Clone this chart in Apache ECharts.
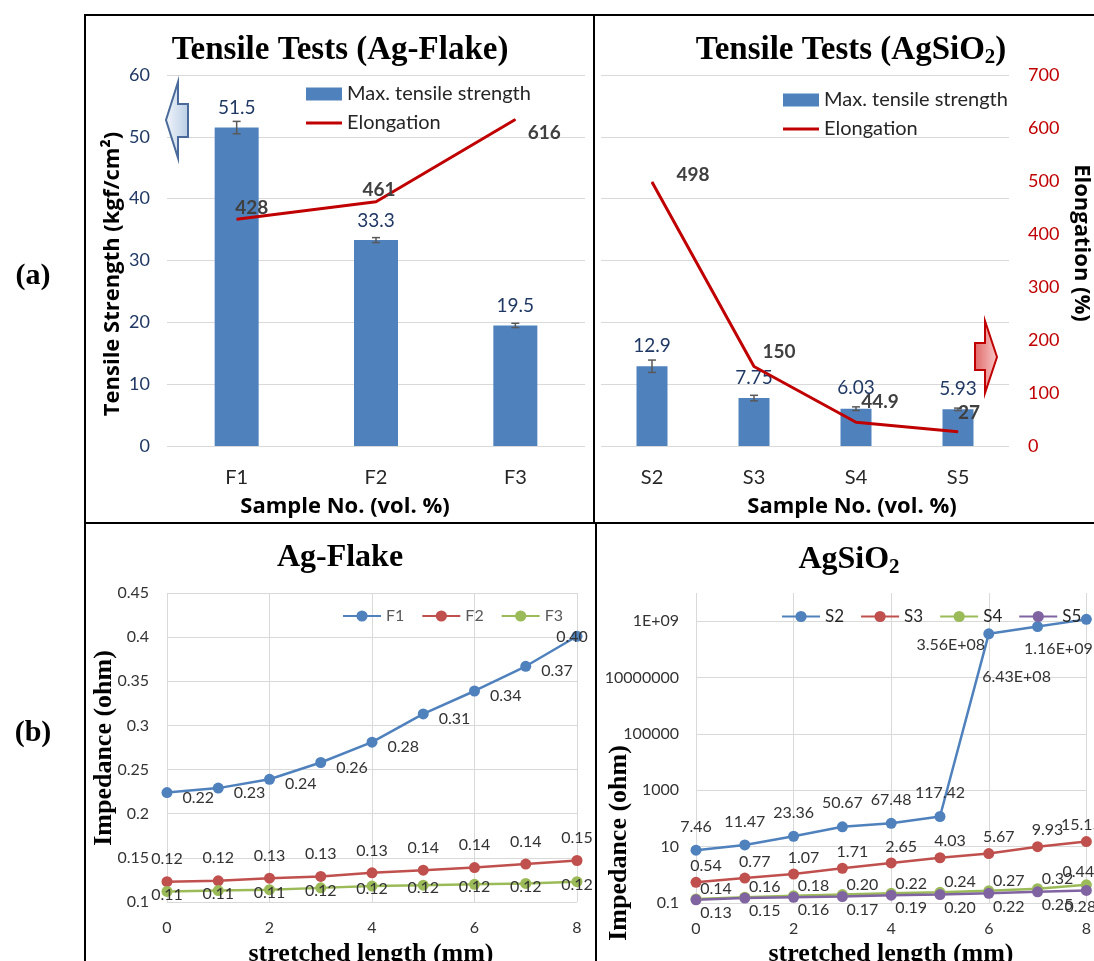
<!DOCTYPE html>
<html>
<head>
<meta charset="utf-8">
<title>Tensile tests and impedance</title>
<script src="https://cdn.jsdelivr.net/npm/echarts@6/dist/echarts.min.js"></script>
<style>
  *{margin:0;padding:0;}
  body{background:#fff;}
  #main{width:1094px;height:961px;}
</style>
</head>
<body>
<div id="main"></div>
<script>
// ---- data ----
var flakeSamples = ['F1', 'F2', 'F3'];
var flakeStrength = [51.5, 33.3, 19.5];
var flakeStrengthErr = [1.0, 0.4, 0.35];
var flakeElong = [428, 461, 616];

var sioSamples = ['S2', 'S3', 'S4', 'S5'];
var sioStrength = [12.9, 7.75, 6.03, 5.93];
var sioStrengthErr = [1.0, 0.45, 0.3, 0.2];
var sioElong = [498, 150, 44.9, 27];

var stretch = [0, 1, 2, 3, 4, 5, 6, 7, 8];
var f1 = [0.224, 0.229, 0.239, 0.258, 0.281, 0.313, 0.339, 0.367, 0.401];
var f2 = [0.123, 0.124, 0.127, 0.129, 0.133, 0.136, 0.139, 0.143, 0.147];
var f3 = [0.112, 0.113, 0.114, 0.116, 0.118, 0.119, 0.120, 0.121, 0.123];
var s2 = [7.46, 11.47, 23.36, 50.67, 67.48, 117.42, 3.56e8, 6.43e8, 1.16e9];
var s3 = [0.54, 0.77, 1.07, 1.71, 2.65, 4.03, 5.67, 9.93, 15.15];
var s4 = [0.14, 0.16, 0.18, 0.20, 0.22, 0.24, 0.27, 0.32, 0.44];
var s5 = [0.13, 0.15, 0.16, 0.17, 0.19, 0.20, 0.22, 0.25, 0.28];

// ---- styles ----
var SANS = 'Lato, "Open Sans", sans-serif';
var BOLDSANS = '"Open Sans", Lato, sans-serif';
var SERIF = '"Liberation Serif", "Times New Roman", serif';
var BLUE = '#4F81BD', RED = '#C0504D', GREEN = '#9BBB59', PURPLE = '#8064A2';
var DARKRED = '#C00000', NAVY = '#203864', GRID = '#D9D9D9';

// label offsets (px)
var flakeElongOff = [[15, -11], [3, -12], [29, 13]];
var sioElongOff = [[41, -7], [25, -15], [24, -20], [11, -19]];
var s2Off = [null, null, null, null, null, null, [-38, 11], [-21, 50], [-28, 29]];
var s3Off = [null, null, null, null, null, null, null, null, [-5, -17]];
var s4Off = [null, null, null, null, null, null, null, null, [-8, -13]];
var s5Off = [null, null, null, null, null, null, null, null, [-6, 16]];
var f1Off = [null, null, null, null, null, null, null, null, [-5, 1]];

var myChart = echarts.init(document.getElementById('main'));

function pairs(ys, offs) {
    return ys.map(function (v, i) {
        var d = {value: [stretch[i], v]};
        if (offs && offs[i]) d.label = {position: 'inside', offset: offs[i]};
        return d;
    });
}
function errorBar(params, api) {
    var i = api.value(0), v = api.value(1), e = api.value(2);
    var hi = api.coord([i, v + e]), lo = api.coord([i, v - e]);
    var st = {stroke: '#595959', lineWidth: 1.5};
    return {type: 'group', children: [
        {type: 'line', shape: {x1: hi[0], y1: hi[1], x2: lo[0], y2: lo[1]}, style: st},
        {type: 'line', shape: {x1: hi[0] - 4, y1: hi[1], x2: hi[0] + 4, y2: hi[1]}, style: st},
        {type: 'line', shape: {x1: lo[0] - 4, y1: lo[1], x2: lo[0] + 4, y2: lo[1]}, style: st}
    ]};
}
function impFmt(v) {
    if (v >= 1e6) {
        return v.toExponential(2).toUpperCase().replace(/E\+(\d)$/, 'E+0$1');
    }
    return v.toFixed(2);
}
function logLabel(v) {
    var e = Math.round(Math.log10(v));
    if (e >= 10) return '';
    if (e >= 9) return '1E+0' + e;
    if (e < 0) return '0.1';
    return String(Math.pow(10, e));
}

function catX(idx, data) {
    return {
        type: 'category', gridIndex: idx, data: data,
        axisLine: {show: false}, axisTick: {show: false},
        axisLabel: {color: '#262626', fontSize: 20, fontFamily: SANS, margin: 22}
    };
}
function valX(idx) {
    return {
        type: 'value', gridIndex: idx, min: 0, max: 8, interval: 2,
        axisLine: {show: false}, axisTick: {show: false},
        splitLine: {show: true, lineStyle: {color: GRID}},
        axisLabel: {color: '#333', fontSize: 16, fontFamily: SANS, margin: 18}
    };
}
function impLabel(extra) {
    var l = {show: true, color: '#333', fontSize: 16, fontFamily: SANS,
        formatter: function (p) { return impFmt(p.value[1]); }};
    for (var k in extra) l[k] = extra[k];
    return l;
}
function lineSeries(name, color, xi, yi, ys, label, offs) {
    return {
        name: name, type: 'line', xAxisIndex: xi, yAxisIndex: yi,
        data: pairs(ys, offs), symbol: 'circle', symbolSize: 11,
        itemStyle: {color: color}, lineStyle: {color: color, width: 2.5},
        label: label
    };
}

var txt = function (x, y, text, font, size, rot) {
    return {type: 'text', x: x, y: y, rotation: rot || 0, z: 10,
        style: {text: text, font: 'bold ' + size + 'px ' + font, fill: '#000', align: 'center', verticalAlign: 'middle'}};
};
var subRich = function (big) {
    return {
        a: {fontFamily: SERIF, fontWeight: 'bold', fontSize: big, color: '#000'},
        s: {fontFamily: SERIF, fontWeight: 'bold', fontSize: 21, color: '#000', padding: [16, 0, 0, 0]}
    };
};
var ln = function (x1, y1, x2, y2) {
    return {type: 'line', shape: {x1: x1, y1: y1, x2: x2, y2: y2}, style: {stroke: '#000', lineWidth: 2}, z: 10};
};

var topLegend = function (left, top) {
    return {data: [{name: 'Max. tensile strength', icon: 'rect'},
                   {name: 'Elongation', icon: 'path://M0,0 L36,0 L36,3 L0,3 Z'}],
        orient: 'vertical', left: left, top: top, itemWidth: 36, itemHeight: 13, itemGap: 9,
        selectedMode: false, symbolKeepAspect: true,
        textStyle: {fontSize: 20, fontFamily: SANS, color: '#262626'}};
};

var option = {
    animation: false,
    grid: [
        {left: 167, top: 75, width: 418, height: 371},
        {left: 601, top: 75, width: 408, height: 371},
        {left: 167, top: 593, width: 410, height: 309},
        {left: 696, top: 593, width: 392, height: 310}
    ],
    legend: [
        topLegend(301, 79),
        topLegend(778, 85),
        {data: ['F1', 'F2', 'F3'], left: 337, top: 603, itemWidth: 38, itemHeight: 14, itemGap: 17,
         selectedMode: false, textStyle: {fontSize: 16, fontFamily: SANS, color: '#595959'}},
        {data: ['S2', 'S3', 'S4', 'S5'], left: 776, top: 603, itemWidth: 38, itemHeight: 14, itemGap: 16,
         selectedMode: false, textStyle: {fontSize: 17, fontFamily: SANS, color: '#262626'}}
    ],
    xAxis: [
        catX(0, flakeSamples),
        catX(1, sioSamples),
        valX(2),
        valX(3)
    ],
    yAxis: [
        {type: 'value', gridIndex: 0, min: 0, max: 60, interval: 10,
         axisLine: {show: false}, axisTick: {show: false},
         splitLine: {lineStyle: {color: GRID}},
         axisLabel: {color: NAVY, fontSize: 18, fontFamily: SANS, margin: 17}},
        {type: 'value', gridIndex: 0, min: 0, max: 700, interval: 100, show: false, splitLine: {show: false}},
        {type: 'value', gridIndex: 1, min: 0, max: 60, interval: 10,
         axisLine: {show: false}, axisTick: {show: false}, axisLabel: {show: false},
         splitLine: {lineStyle: {color: GRID}}},
        {type: 'value', gridIndex: 1, min: 0, max: 700, interval: 100, position: 'right',
         axisLine: {show: false}, axisTick: {show: false}, splitLine: {show: false},
         axisLabel: {color: DARKRED, fontSize: 18, fontFamily: SANS, margin: 19}},
        {type: 'value', gridIndex: 2, min: 0.1, max: 0.45, interval: 0.05,
         axisLine: {show: false}, axisTick: {show: false},
         splitLine: {lineStyle: {color: GRID}},
         axisLabel: {color: '#333', fontSize: 16, fontFamily: SANS, margin: 18,
             formatter: function (v) { return String(parseFloat(v.toFixed(2))); }}},
        {type: 'log', gridIndex: 3, logBase: 10, min: 0.1, max: 1e10, interval: 2,
         axisLine: {show: false}, axisTick: {show: false},
         splitLine: {lineStyle: {color: [GRID, GRID, GRID, GRID, GRID, GRID, 'rgba(0,0,0,0)']}},
         axisLabel: {color: '#333', fontSize: 16, fontFamily: SANS, margin: 17, formatter: logLabel}}
    ],
    series: [
        {name: 'Max. tensile strength', type: 'bar', xAxisIndex: 0, yAxisIndex: 0, data: flakeStrength,
         barWidth: 44, itemStyle: {color: BLUE},
         label: {show: true, position: 'top', distance: 10, color: NAVY, fontSize: 19, fontFamily: SANS}},
        {type: 'custom', xAxisIndex: 0, yAxisIndex: 0, renderItem: errorBar, z: 3,
         data: flakeStrength.map(function (v, i) { return [i, v, flakeStrengthErr[i]]; })},
        {name: 'Elongation', type: 'line', xAxisIndex: 0, yAxisIndex: 1,
         data: flakeElong.map(function (v, i) { return {value: v, label: {offset: flakeElongOff[i]}}; }),
         symbol: 'circle', symbolSize: 1, itemStyle: {color: DARKRED},
         lineStyle: {color: DARKRED, width: 3},
         label: {show: true, position: 'inside', color: '#404040', fontWeight: 'bold', fontSize: 19, fontFamily: SANS}},

        {name: 'Max. tensile strength', type: 'bar', xAxisIndex: 1, yAxisIndex: 2, data: sioStrength,
         barWidth: 31, itemStyle: {color: BLUE},
         label: {show: true, position: 'top', distance: 11, color: NAVY, fontSize: 19, fontFamily: SANS}},
        {type: 'custom', xAxisIndex: 1, yAxisIndex: 2, renderItem: errorBar, z: 3,
         data: sioStrength.map(function (v, i) { return [i, v, sioStrengthErr[i]]; })},
        {name: 'Elongation', type: 'line', xAxisIndex: 1, yAxisIndex: 3,
         data: sioElong.map(function (v, i) { return {value: v, label: {offset: sioElongOff[i]}}; }),
         symbol: 'circle', symbolSize: 1, itemStyle: {color: DARKRED},
         lineStyle: {color: DARKRED, width: 3}, z: 4,
         label: {show: true, position: 'inside', color: '#404040', fontWeight: 'bold', fontSize: 19, fontFamily: SANS}},

        lineSeries('F1', BLUE, 2, 4, f1, impLabel({position: 'right', distance: 10, offset: [0, 5]}), f1Off),
        lineSeries('F2', RED, 2, 4, f2, impLabel({position: 'top', distance: 9})),
        lineSeries('F3', GREEN, 2, 4, f3, impLabel({position: 'inside', offset: [0, 3]})),

        lineSeries('S2', BLUE, 3, 5, s2, impLabel({position: 'top', distance: 10}), s2Off),
        lineSeries('S3', RED, 3, 5, s3, impLabel({position: 'top', distance: 3, offset: [10, 0]}), s3Off),
        lineSeries('S4', GREEN, 3, 5, s4, impLabel({position: 'inside', offset: [20, -10]}), s4Off),
        lineSeries('S5', PURPLE, 3, 5, s5, impLabel({position: 'inside', offset: [20, 13]}), s5Off)
    ],
    graphic: [
        // panel frames
        ln(84, 15, 1094, 15), ln(85, 14, 85, 961), ln(594, 14, 594, 523),
        ln(84, 523, 1094, 523), ln(596, 523, 596, 961),
        // panel letters
        txt(33, 276, '(a)', SERIF, 30),
        txt(33, 733, '(b)', SERIF, 30),
        // titles
        txt(340, 50, 'Tensile Tests (Ag-Flake)', SERIF, 33),
        {type: 'text', x: 851, y: 50, z: 10, style: {text: '{a|Tensile Tests (AgSiO}{s|2}{a|)}', rich: subRich(33),
            align: 'center', verticalAlign: 'middle'}},
        txt(340, 558, 'Ag-Flake', SERIF, 32),
        {type: 'text', x: 849, y: 560, z: 10, style: {text: '{a|AgSiO}{s|2}', rich: subRich(32),
            align: 'center', verticalAlign: 'middle'}},
        // axis titles
        txt(113, 274, 'Tensile Strength (kgf/cm\u00B2)', BOLDSANS, 22, Math.PI / 2),
        txt(1081, 243, 'Elongation (%)', BOLDSANS, 22, -Math.PI / 2),
        txt(345, 507, 'Sample No. (vol. %)', BOLDSANS, 22),
        txt(852, 507, 'Sample No. (vol. %)', BOLDSANS, 22),
        txt(104, 748, 'Impedance (ohm)', SERIF, 26, Math.PI / 2),
        txt(619, 843, 'Impedance (ohm)', SERIF, 26, Math.PI / 2),
        txt(371, 954, 'stretched length (mm)', SERIF, 26),
        txt(891, 954, 'stretched length (mm)', SERIF, 26),
        // block arrows
        {type: 'polygon', z: 9, shape: {points: [[166, 120], [178, 82], [178, 104], [188, 104], [188, 137], [178, 137], [178, 158]]},
         style: {fill: new echarts.graphic.LinearGradient(0, 0, 1, 0, [{offset: 0, color: '#F2F6FB'}, {offset: 1, color: '#B9CDE5'}]),
             stroke: '#4A6A99', lineWidth: 2}},
        {type: 'polygon', z: 9, shape: {points: [[997, 357], [985, 321], [985, 343], [975, 343], [975, 370], [985, 370], [985, 393]]},
         style: {fill: new echarts.graphic.LinearGradient(0, 0, 1, 0, [{offset: 0, color: '#E06666'}, {offset: 1, color: '#F8CBCB'}]),
             stroke: DARKRED, lineWidth: 2}}
    ]
};
myChart.setOption(option);
</script>
</body>
</html>
